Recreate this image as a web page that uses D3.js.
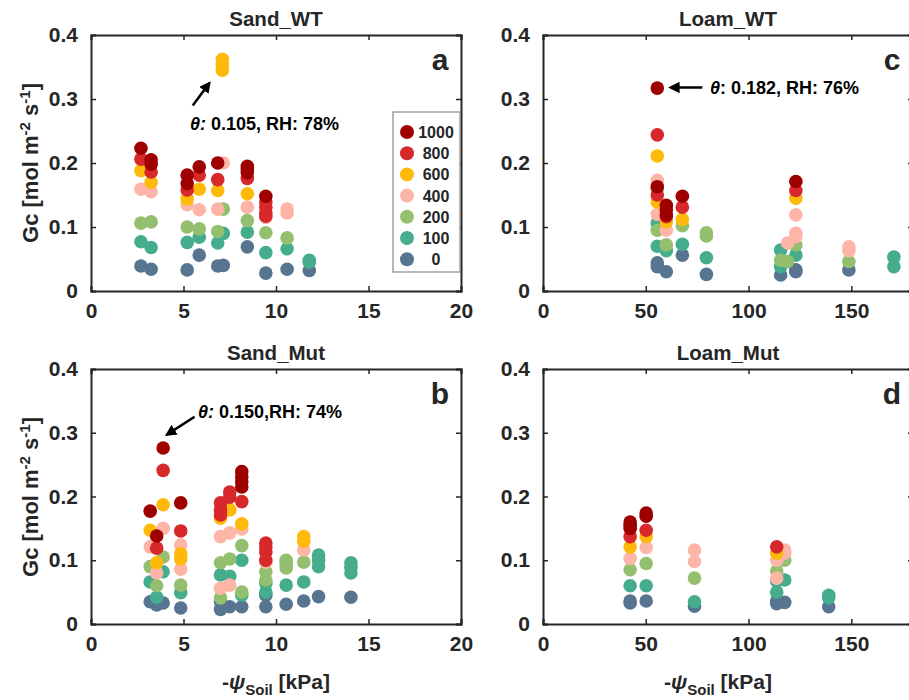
<!DOCTYPE html>
<html>
<head>
<meta charset="utf-8">
<script src="https://cdn.jsdelivr.net/npm/d3@7"></script>
<style>
  html, body { margin: 0; padding: 0; background: #fff; }
  svg { display: block; }
  text { font-family: "Liberation Sans", Arial, sans-serif; font-weight: bold; fill: #262626; }
</style>
</head>
<body>
<svg id="chart" width="909" height="700"></svg>
<script>
// ---------- data ----------
const levels = [1000, 800, 600, 400, 200, 100, 0];
const levelColors = ["#9e0000", "#d7282b", "#ffb90a", "#fdb5a8", "#93bf6f", "#45ac8d", "#577591"];

const yTicks = [0, 0.1, 0.2, 0.3, 0.4];
const yTickLabels = ["0", "0.1", "0.2", "0.3", "0.4"];
const sandXTicks = [0, 5, 10, 15, 20];
const loamXTicks = [0, 50, 100, 150];

// [ -psi_soil (kPa), Gc, PAR level ]
const sandWT = [
  [2.7,0.223,1000],[2.7,0.206,800],[2.7,0.188,600],[2.7,0.159,400],[2.7,0.106,200],[2.7,0.077,100],[2.7,0.039,0],
  [3.25,0.205,1000],[3.25,0.198,1000],[3.25,0.186,800],[3.25,0.170,600],[3.25,0.155,400],[3.25,0.108,200],[3.25,0.068,100],[3.25,0.034,0],
  [5.2,0.181,1000],[5.2,0.168,1000],[5.2,0.158,800],[5.2,0.144,600],[5.2,0.135,400],[5.2,0.100,200],[5.2,0.076,100],[5.2,0.033,0],
  [5.85,0.194,1000],[5.85,0.181,800],[5.85,0.159,600],[5.85,0.127,400],[5.85,0.097,200],[5.85,0.084,100],[5.85,0.056,0],
  [6.85,0.200,1000],[6.85,0.174,800],[6.85,0.157,600],[6.85,0.128,400],[6.85,0.093,200],[6.85,0.075,100],[6.85,0.039,0],
  [7.15,0.200,400],[7.15,0.128,200],[7.15,0.090,100],[7.15,0.040,0],
  [7.1,0.362,600],[7.1,0.354,600],[7.1,0.345,600],
  [8.45,0.195,1000],[8.45,0.190,1000],[8.45,0.185,1000],[8.45,0.176,800],[8.45,0.152,600],[8.45,0.131,400],[8.45,0.110,200],[8.45,0.092,100],[8.45,0.069,0],
  [9.45,0.148,1000],[9.45,0.139,800],[9.45,0.131,800],[9.45,0.122,800],[9.45,0.115,400],[9.45,0.117,800],[9.45,0.091,200],[9.45,0.060,100],[9.45,0.028,0],
  [10.6,0.128,400],[10.6,0.122,400],[10.6,0.083,200],[10.6,0.066,100],[10.6,0.034,0],
  [11.8,0.048,100],[11.8,0.045,100],[11.8,0.032,0]
];

const sandMut = [
  [3.2,0.177,1000],[3.2,0.147,600],[3.2,0.121,400],[3.2,0.090,200],[3.2,0.066,100],[3.2,0.035,0],
  [3.55,0.138,1000],[3.55,0.119,800],[3.55,0.096,600],[3.55,0.080,400],[3.55,0.060,200],[3.55,0.042,100],[3.55,0.030,0],
  [3.9,0.276,1000],[3.9,0.241,800],[3.9,0.187,600],[3.9,0.150,400],[3.9,0.105,200],[3.9,0.082,100],[3.9,0.033,0],
  [4.85,0.190,1000],[4.85,0.146,800],[4.85,0.124,400],[4.85,0.110,600],[4.85,0.102,600],[4.85,0.086,400],[4.85,0.061,200],[4.85,0.049,100],[4.85,0.025,0],
  [7.0,0.190,800],[7.0,0.179,800],[7.0,0.171,800],[7.0,0.166,600],[7.0,0.137,400],[7.0,0.096,200],[7.0,0.077,100],[7.0,0.056,400],[7.0,0.041,200],[7.0,0.035,0],[7.0,0.023,0],
  [7.5,0.207,800],[7.5,0.199,800],[7.5,0.179,600],[7.5,0.143,400],[7.5,0.102,200],[7.5,0.075,100],[7.5,0.061,400],[7.5,0.027,0],
  [8.15,0.239,1000],[8.15,0.231,1000],[8.15,0.223,1000],[8.15,0.215,1000],[8.15,0.192,800],[8.15,0.157,600],[8.15,0.149,400],[8.15,0.123,200],[8.15,0.100,100],[8.15,0.050,200],[8.15,0.045,100],[8.15,0.027,0],
  [9.45,0.127,800],[9.45,0.120,800],[9.45,0.113,800],[9.45,0.100,800],[9.45,0.097,400],[9.45,0.082,200],[9.45,0.069,200],[9.45,0.064,100],[9.45,0.050,100],[9.45,0.045,0],[9.45,0.027,0],
  [10.55,0.100,200],[10.55,0.095,200],[10.55,0.088,200],[10.55,0.061,100],[10.55,0.031,0],
  [11.5,0.137,600],[11.5,0.130,600],[11.5,0.116,400],[11.5,0.097,200],[11.5,0.066,100],[11.5,0.036,0],
  [12.3,0.108,100],[12.3,0.100,100],[12.3,0.090,100],[12.3,0.043,0],
  [14.05,0.096,100],[14.05,0.089,100],[14.05,0.080,100],[14.05,0.042,0]
];

const loamWT = [
  [55.6,0.317,1000],[55.6,0.244,800],[55.6,0.211,600],[55.6,0.173,400],[55.6,0.163,1000],[55.6,0.159,200],[55.6,0.150,800],[55.6,0.139,600],[55.6,0.120,400],[55.6,0.106,100],[55.6,0.095,200],[55.6,0.070,100],[55.6,0.044,0],[55.6,0.038,0],
  [60,0.134,1000],[60,0.127,1000],[60,0.119,1000],[60,0.116,800],[60,0.108,600],[60,0.095,400],[60,0.072,200],[60,0.063,100],[60,0.030,0],
  [67.8,0.148,1000],[67.8,0.131,800],[67.8,0.112,600],[67.8,0.102,200],[67.8,0.073,100],[67.8,0.056,0],
  [79.5,0.091,200],[79.5,0.086,200],[79.5,0.052,100],[79.5,0.026,0],
  [115.6,0.064,100],[115.6,0.048,200],[115.6,0.038,100],[115.6,0.025,0],
  [119,0.075,400],[119,0.046,200],
  [123,0.171,1000],[123,0.157,800],[123,0.145,600],[123,0.119,400],[123,0.090,400],[123,0.085,400],[123,0.072,200],[123,0.056,100],[123,0.033,0],[123,0.030,0],
  [148.8,0.069,400],[148.8,0.063,400],[148.8,0.046,200],[148.8,0.033,0],
  [170.7,0.053,100],[170.7,0.038,100]
];

const loamMut = [
  [42.4,0.160,1000],[42.4,0.155,1000],[42.4,0.150,1000],[42.4,0.137,800],[42.4,0.121,600],[42.4,0.103,400],[42.4,0.085,200],[42.4,0.060,100],[42.4,0.036,0],[42.4,0.033,0],
  [50.2,0.174,1000],[50.2,0.169,1000],[50.2,0.147,800],[50.2,0.137,600],[50.2,0.120,400],[50.2,0.095,200],[50.2,0.060,100],[50.2,0.036,0],
  [73.7,0.116,400],[73.7,0.098,400],[73.7,0.072,200],[73.7,0.028,0],[73.7,0.035,100],
  [113.7,0.121,800],[113.7,0.111,600],[113.7,0.100,400],[113.7,0.083,200],[113.7,0.067,100],[113.7,0.050,100],[113.7,0.072,400],[113.7,0.036,0],[113.7,0.032,0],
  [117.6,0.116,400],[117.6,0.111,400],[117.6,0.100,200],[117.6,0.069,100],[117.6,0.034,0],
  [139,0.027,0],[139,0.045,100],[139,0.041,100]
];

// ---------- drawing ----------
const svg = d3.select("#chart");
const color = d3.scaleOrdinal().domain(levels).range(levelColors);
const ink = "#262626";

function drawPanel(p) {
  const x = d3.scaleLinear().domain(p.xDomain).range([p.left, p.right]);
  const y = d3.scaleLinear().domain([0, 0.4]).range([p.bottom, p.top]);
  const g = svg.append("g");

  // title
  g.append("text").attr("x", (p.left + p.left + 370) / 2).attr("y", p.top - 9)
    .attr("text-anchor", "middle").attr("font-size", 20.5).text(p.title);

  // axes (box with inward ticks on all sides)
  const axB = d3.axisBottom(x).tickValues(p.xTicks).tickSize(-5).tickPadding(12).tickFormat(d3.format("d"));
  const axT = d3.axisTop(x).tickValues(p.xTicks).tickSize(-5).tickFormat("");
  const axL = d3.axisLeft(y).tickValues(yTicks).tickSize(-5).tickPadding(13).tickFormat((d, i) => yTickLabels[i]);
  const axR = d3.axisRight(y).tickValues(yTicks).tickSize(-5).tickFormat("");
  [[axB, `translate(0,${p.bottom})`], [axT, `translate(0,${p.top})`],
   [axL, `translate(${p.left},0)`], [axR, `translate(${p.right},0)`]].forEach(([ax, tr]) => {
    const a = g.append("g").attr("transform", tr).call(ax);
    a.select(".domain").attr("stroke", ink).attr("stroke-width", 2);
    a.selectAll(".tick line").attr("stroke", ink).attr("stroke-width", 1.5);
    a.selectAll(".tick text").attr("font-size", 21).attr("font-family", "Liberation Sans, Arial, sans-serif")
      .attr("font-weight", "bold").attr("fill", ink);
  });

  // points: draw lower PAR first
  const pts = p.data.slice().sort((a, b) => a[2] - b[2]);
  g.append("g").selectAll("circle").data(pts).join("circle")
    .attr("cx", d => x(d[0])).attr("cy", d => y(d[1])).attr("r", 6.8)
    .attr("fill", d => color(d[2]));

  // panel letter
  g.append("text").attr("x", p.left + 349).attr("y", p.top + 35).attr("text-anchor", "middle")
    .attr("font-size", 30).text(p.letter);

  return { x, y, g };
}

const W = 370;
const pa = drawPanel({ data: sandWT, xDomain: [0, 20], xTicks: sandXTicks, left: 91, right: 91 + W, top: 35, bottom: 291, title: "Sand_WT", letter: "a" });
const pc = drawPanel({ data: loamWT, xDomain: [0, 180], xTicks: loamXTicks, left: 543, right: 543 + W, top: 35, bottom: 291, title: "Loam_WT", letter: "c" });
const pb = drawPanel({ data: sandMut, xDomain: [0, 20], xTicks: sandXTicks, left: 91, right: 91 + W, top: 369, bottom: 624, title: "Sand_Mut", letter: "b" });
const pd = drawPanel({ data: loamMut, xDomain: [0, 180], xTicks: loamXTicks, left: 543, right: 543 + W, top: 369, bottom: 624, title: "Loam_Mut", letter: "d" });

// legend (panel a)
const leg = svg.append("g");
leg.append("rect").attr("x", 393).attr("y", 112).attr("width", 67).attr("height", 160)
  .attr("fill", "#fff").attr("stroke", "#8a8a8a").attr("stroke-width", 1.2);
levels.forEach((lv, i) => {
  const cy = 132 + i * 21.2;
  leg.append("circle").attr("cx", 407).attr("cy", cy).attr("r", 7).attr("fill", color(lv));
  leg.append("text").attr("x", 436).attr("y", cy + 6).attr("text-anchor", "middle")
    .attr("font-size", 16).text(lv);
});

// arrows + annotations
svg.append("defs").append("marker").attr("id", "ah").attr("viewBox", "0 0 10 10")
  .attr("refX", 8).attr("refY", 5).attr("markerWidth", 4.6).attr("markerHeight", 4.6).attr("orient", "auto")
  .append("path").attr("d", "M0,0 L10,5 L0,10 z").attr("fill", "#000");

function annotate(x1, y1, x2, y2, tx, ty, anchor, theta, rest) {
  svg.append("line").attr("x1", x1).attr("y1", y1).attr("x2", x2).attr("y2", y2)
    .attr("stroke", "#000").attr("stroke-width", 2.5).attr("marker-end", "url(#ah)");
  const t = svg.append("text").attr("x", tx).attr("y", ty).attr("text-anchor", anchor).attr("font-size", 18)
    .style("fill", "#000");
  t.append("tspan").attr("font-style", "italic").text(theta);
  t.append("tspan").text(rest);
}
annotate(pa.x(5.5), pa.y(0.29), pa.x(6.4), pa.y(0.325), 190, 130, "start", "θ:", " 0.105, RH: 78%");
annotate(pc.x(77.5), pc.y(0.318), pc.x(62), pc.y(0.318), 710, 94, "start", "θ", ": 0.182, RH: 76%");
annotate(pb.x(5.6), pb.y(0.325), pb.x(4.1), pb.y(0.297), 198, 418, "start", "θ:", " 0.150,RH: 74%");

// axis labels
function yLabel(cx, cy) {
  const t = svg.append("text").attr("transform", `translate(${cx},${cy}) rotate(-90)`)
    .attr("text-anchor", "middle").attr("font-size", 22);
  t.append("tspan").text("Gc [mol m");
  t.append("tspan").attr("dy", -8).attr("font-size", 15).text("-2");
  t.append("tspan").attr("dy", 8).text(" s");
  t.append("tspan").attr("dy", -8).attr("font-size", 15).text("-1");
  t.append("tspan").attr("dy", 8).text("]");
}
yLabel(38, 163);
yLabel(38, 497);

function xLabel(cx, cy) {
  const t = svg.append("text").attr("x", cx).attr("y", cy).attr("text-anchor", "middle").attr("font-size", 21);
  t.append("tspan").text("-");
  t.append("tspan").attr("font-style", "italic").text("ψ");
  t.append("tspan").attr("dy", 6).attr("font-size", 15).text("Soil");
  t.append("tspan").attr("dy", -6).text(" [kPa]");
}
xLabel(276, 689);
xLabel(718, 689);
</script>
</body>
</html>
